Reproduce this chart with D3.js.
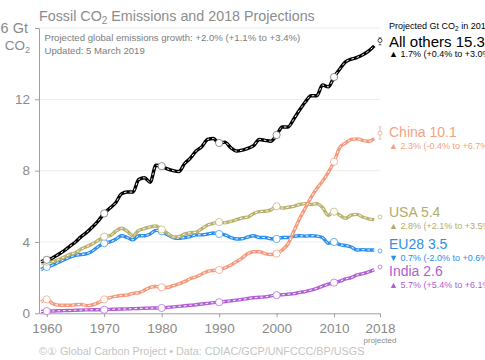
<!DOCTYPE html>
<html>
<head>
<meta charset="utf-8">
<script src="https://cdn.jsdelivr.net/npm/d3@7"></script>
<style>
  html, body { margin: 0; padding: 0; background: #fff; }
  svg { display: block; font-family: "Liberation Sans", Arial, sans-serif; }
</style>
</head>
<body>
<svg id="chart" width="485" height="360"></svg>
<script>
// data, Gt CO2 per year, 1959..2017
const firstYear = 1959;
const lastYear = 2017;
const projYear = 2018;

const seriesNames = ['All others', 'China', 'USA', 'EU28', 'India'];

const allOthers = [2.9,3.0,3.1,3.3,3.5,3.75,4.0,4.3,4.55,4.85,
  5.2,5.6,5.9,6.2,6.7,6.8,6.8,7.5,7.6,7.35,
  8.3,8.25,8.1,8.0,7.95,8.4,8.7,9.1,9.35,9.75,
  9.8,9.55,9.6,9.3,9.1,9.15,9.25,9.4,9.75,9.7,
  9.65,10.0,10.45,10.45,10.9,11.4,11.85,12.2,12.2,12.8,
  12.7,13.25,13.7,14.1,14.25,14.35,14.5,14.7,15.0];

const china = [0.65,0.78,0.55,0.46,0.45,0.45,0.48,0.5,0.43,0.48,
  0.6,0.78,0.88,0.95,1.0,1.02,1.12,1.15,1.3,1.45,
  1.5,1.46,1.45,1.55,1.65,1.78,1.95,2.05,2.2,2.35,
  2.4,2.43,2.55,2.7,2.9,3.1,3.35,3.45,3.45,3.35,
  3.3,3.35,3.55,3.9,4.6,5.3,5.9,6.5,7.0,7.4,
  7.9,8.5,9.3,9.55,9.75,9.78,9.7,9.65,9.8];

const usa = [2.8,2.9,2.9,3.0,3.15,3.3,3.4,3.6,3.75,3.9,
  4.1,4.3,4.35,4.6,4.77,4.6,4.35,4.65,4.75,4.85,
  4.9,4.7,4.5,4.28,4.3,4.45,4.52,4.55,4.75,4.95,
  5.05,5.12,5.07,5.15,5.25,5.35,5.4,5.6,5.7,5.72,
  5.8,6.0,5.9,5.95,6.0,6.1,6.15,6.1,6.15,5.93,
  5.5,5.7,5.5,5.33,5.5,5.55,5.4,5.3,5.25];

const eu28 = [2.45,2.6,2.7,2.85,3.0,3.15,3.25,3.3,3.35,3.5,
  3.75,3.93,4.0,4.15,4.35,4.25,4.12,4.35,4.35,4.45,
  4.65,4.6,4.4,4.25,4.2,4.25,4.3,4.4,4.4,4.45,
  4.5,4.45,4.4,4.25,4.17,4.18,4.28,4.35,4.25,4.25,
  4.18,4.17,4.25,4.25,4.32,4.35,4.33,4.35,4.33,4.25,
  3.93,4.0,3.85,3.8,3.72,3.55,3.57,3.55,3.55];

const india = [0.1,0.12,0.13,0.14,0.15,0.16,0.17,0.18,0.19,0.2,
  0.2,0.2,0.22,0.23,0.24,0.25,0.26,0.27,0.28,0.29,
  0.3,0.3,0.33,0.36,0.39,0.42,0.45,0.48,0.52,0.56,
  0.6,0.62,0.66,0.7,0.74,0.78,0.83,0.87,0.9,0.92,
  0.98,1.02,1.04,1.07,1.1,1.17,1.22,1.3,1.4,1.52,
  1.63,1.72,1.8,1.93,2.0,2.15,2.22,2.32,2.45];

// 2018 projection and its range
const projValue = [15.3, 10.1, 5.4, 3.5, 2.6];
const projLow = [15.06, 9.76, 5.38, 3.44, 2.57];
const projHigh = [15.45, 10.46, 5.46, 3.54, 2.62];
const growthArrow = ['▲', '▲', '▲', '▼', '▲'];
const growthText = ['1.7% (+0.4% to +3.0%)', '2.3% (-0.4% to +6.7%)', '2.8% (+2.1% to +3.5%)',
  '0.7% (-2.0% to +0.6%)', '5.7% (+5.4% to +6.1%)'];

const markerYears = [1960, 1970, 1980, 1990, 2000, 2010];
const yTicks = [0, 4, 8, 12, 16];
const xTicks = [1960, 1970, 1980, 1990, 2000, 2010, 2018];

const seriesValues = [allOthers, china, usa, eu28, india];

// styles
const colors = ['#000000', '#f4997c', '#b9b16c', '#2d8ff0', '#b45fd6'];
const textColors = ['#000000', '#f4a283', '#b3ab6a', '#2f8ee6', '#b05fd2'];
const labelBase = [47, 137, 217, 249, 276];
const labelSize = [15, 14, 14, 14, 14];

const years = d3.range(firstYear, lastYear + 1);

const svg = d3.select('#chart');

const x = d3.scaleLinear().domain([1958.65, 2018]).range([39, 380]);
const y = d3.scaleLinear().domain([0, 16]).range([313.3, 28]);

// grid
svg.append('g')
  .selectAll('line')
  .data(yTicks.filter(d => d > 0))
  .enter().append('line')
  .attr('x1', x(1958.65)).attr('x2', x(2018))
  .attr('y1', d => y(d)).attr('y2', d => y(d))
  .attr('stroke', '#ececec').attr('stroke-width', 1);

// y axis
const yAxis = d3.axisLeft(y)
  .tickValues(yTicks)
  .tickSize(4)
  .tickSizeOuter(0)
  .tickPadding(5)
  .tickFormat(d => d === 16 ? '16 Gt' : d);

const gy = svg.append('g')
  .attr('transform', `translate(${x(1958.65)},0)`)
  .call(yAxis);
gy.select('.domain').attr('stroke', '#a0a0a0');
gy.selectAll('.tick line').attr('stroke', '#a0a0a0');
gy.selectAll('.tick text')
  .attr('fill', '#8a8a8a')
  .attr('dx', d => d === 16 ? -2 : 0)
  .style('font-size', d => d === 16 ? '14.5px' : '13.5px')
  .style('font-family', '"Liberation Sans", Arial, sans-serif');

const unitLabel = svg.append('text')
  .attr('x', 30).attr('y', 50)
  .attr('text-anchor', 'end')
  .attr('fill', '#8a8a8a')
  .style('font-size', '13.5px');
unitLabel.append('tspan').text('CO');
unitLabel.append('tspan').attr('dy', 3).style('font-size', '9px').text('2');

// x axis
const xAxis = d3.axisBottom(x)
  .tickValues(xTicks)
  .tickSize(4)
  .tickSizeOuter(0)
  .tickPadding(6)
  .tickFormat(d3.format('d'));

const gx = svg.append('g')
  .attr('transform', `translate(0,${y(0)})`)
  .call(xAxis);
gx.select('.domain').attr('stroke', '#a0a0a0');
gx.selectAll('.tick line').attr('stroke', '#a0a0a0');
gx.selectAll('.tick text')
  .attr('fill', '#8a8a8a')
  .style('font-size', '13.5px')
  .style('font-family', '"Liberation Sans", Arial, sans-serif');

svg.append('text')
  .attr('x', x(2018)).attr('y', 343)
  .attr('text-anchor', 'middle')
  .attr('fill', '#8a8a8a')
  .style('font-size', '8px')
  .text('projected');

// lines
const line = d3.line()
  .x((d, i) => x(years[i]))
  .y(d => y(d))
  .curve(d3.curveMonotoneX);

// draw bottom series first so "All others" ends on top
const order = [4, 3, 2, 1, 0];

order.forEach(k => {
  const vals = seriesValues[k];
  const g = svg.append('g');

  g.append('path')
    .attr('d', line(vals))
    .attr('fill', 'none')
    .attr('stroke', colors[k])
    .attr('stroke-width', 3.4)
    .attr('stroke-linejoin', 'round');

  g.append('path')
    .attr('d', line(vals))
    .attr('fill', 'none')
    .attr('stroke', '#fff')
    .attr('stroke-width', 1)
    .attr('stroke-dasharray', '2.5,3');

  g.selectAll('circle.m')
    .data(markerYears)
    .enter().append('circle')
    .attr('class', 'm')
    .attr('cx', d => x(d))
    .attr('cy', d => y(vals[d - firstYear]))
    .attr('r', 3.6)
    .attr('fill', '#fff')
    .attr('stroke', k === 0 ? '#666' : colors[k])
    .attr('stroke-width', 0.7);

  // projection range
  const px = x(projYear);
  g.append('line')
    .attr('x1', px).attr('x2', px)
    .attr('y1', y(projLow[k])).attr('y2', y(projHigh[k]))
    .attr('stroke', colors[k]).attr('stroke-width', 1)
    .attr('stroke-dasharray', k === 0 ? '1,1' : null)
    .attr('opacity', 0.7);
  [projLow[k], projHigh[k]].forEach(v => {
    g.append('line')
      .attr('x1', px - 1.5).attr('x2', px + 1.5)
      .attr('y1', y(v)).attr('y2', y(v))
      .attr('stroke', colors[k]).attr('stroke-width', 0.8)
      .attr('opacity', 0.7);
  });
  g.append('circle')
    .attr('cx', px).attr('cy', y(projValue[k]))
    .attr('r', 2)
    .attr('fill', '#fff')
    .attr('stroke', colors[k])
    .attr('stroke-width', 0.7);

  // labels
  svg.append('text')
    .attr('x', 389).attr('y', labelBase[k])
    .attr('fill', textColors[k])
    .style('font-size', labelSize[k] + 'px')
    .text(`${seriesNames[k]} ${projValue[k]}`);

  svg.append('text')
    .attr('x', 389).attr('y', labelBase[k] + (k === 0 ? 9.5 : 12))
    .attr('fill', textColors[k])
    .style('font-size', '9px')
    .text(`${growthArrow[k]} ${growthText[k]}`);
});

// legend heading
const legendHead = svg.append('text')
  .attr('x', 389).attr('y', 29)
  .attr('fill', '#000')
  .style('font-size', '9px');
legendHead.append('tspan').text('Projected Gt CO');
legendHead.append('tspan').attr('dy', 2).style('font-size', '6.5px').text('2');
legendHead.append('tspan').attr('dy', -2).text(' in 2018');

// title
const title = svg.append('text')
  .attr('x', 39).attr('y', 21)
  .attr('fill', '#8c8c8c')
  .style('font-size', '14.3px');
title.append('tspan').text('Fossil CO');
title.append('tspan').attr('dy', 3).style('font-size', '10px').text('2');
title.append('tspan').attr('dy', -3).text(' Emissions and 2018 Projections');

svg.append('text')
  .attr('x', 44.5).attr('y', 40.5)
  .attr('fill', '#7d7d7d')
  .style('font-size', '9.6px')
  .text('Projected global emissions growth: +2.0% (+1.1% to +3.4%)');

svg.append('text')
  .attr('x', 44.5).attr('y', 54)
  .attr('fill', '#7d7d7d')
  .style('font-size', '9.6px')
  .text('Updated: 5 March 2019');

// footer
svg.append('text')
  .attr('x', 39).attr('y', 355)
  .attr('fill', '#c4c4c4')
  .style('font-size', '10.8px')
  .text('\u00A9\u2460 Global Carbon Project  \u2022  Data: CDIAC/GCP/UNFCCC/BP/USGS');
</script>
</body>
</html>
